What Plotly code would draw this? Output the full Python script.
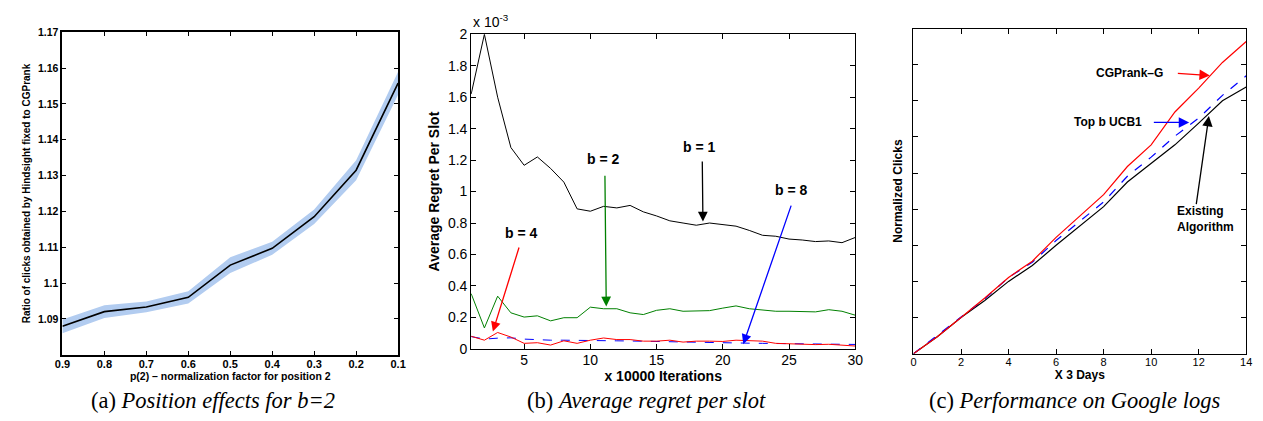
import plotly.graph_objects as go

# ---------------- data ----------------
# (a) Position effects for b=2
p2_values = [0.9, 0.8, 0.7, 0.6, 0.5, 0.4, 0.3, 0.2, 0.1]
ratio_mean = [1.0879, 1.0920, 1.0933, 1.0960, 1.1050, 1.1097, 1.1185, 1.1315, 1.1558]
ratio_hi = [1.0898, 1.0938, 1.0948, 1.0977, 1.1072, 1.1115, 1.1205, 1.1343, 1.1590]
ratio_lo = [1.0860, 1.0902, 1.0918, 1.0943, 1.1028, 1.1079, 1.1165, 1.1287, 1.1526]
a_yticks = [1.09, 1.10, 1.11, 1.12, 1.13, 1.14, 1.15, 1.16, 1.17]
a_yticktext = ["1.09", "1.1", "1.11", "1.12", "1.13", "1.14", "1.15", "1.16", "1.17"]

# (b) Average regret per slot (units of 1e-3)
iterations = list(range(1, 31))
regret_b1 = [1.62, 2.00, 1.60, 1.28, 1.167, 1.22, 1.147, 1.06, 0.89, 0.875,
             0.906, 0.896, 0.912, 0.871, 0.845, 0.814, 0.800, 0.786, 0.800, 0.790,
             0.780, 0.753, 0.722, 0.716, 0.698, 0.692, 0.682, 0.686, 0.675, 0.708]
regret_b2 = [0.351, 0.133, 0.335, 0.229, 0.202, 0.210, 0.178, 0.198, 0.198, 0.265,
             0.255, 0.255, 0.229, 0.218, 0.245, 0.255, 0.239, 0.243, 0.243, 0.259,
             0.273, 0.255, 0.249, 0.239, 0.239, 0.235, 0.235, 0.249, 0.239, 0.214]
regret_b4 = [0.080, 0.055, 0.104, 0.075, 0.035, 0.039, 0.024, 0.051, 0.035, 0.055,
             0.069, 0.059, 0.059, 0.049, 0.049, 0.055, 0.043, 0.049, 0.049, 0.047,
             0.055, 0.051, 0.049, 0.035, 0.031, 0.031, 0.027, 0.029, 0.024, 0.018]
regret_b8 = [0.078, 0.062, 0.068, 0.070, 0.062, 0.058, 0.055, 0.055, 0.053, 0.052,
             0.052, 0.051, 0.050, 0.048, 0.046, 0.045, 0.043, 0.042, 0.040, 0.038,
             0.037, 0.036, 0.035, 0.034, 0.033, 0.032, 0.031, 0.030, 0.029, 0.028]
b_yticks = [0, 0.2, 0.4, 0.6, 0.8, 1.0, 1.2, 1.4, 1.6, 1.8, 2.0]
b_yticktext = ["0", "0.2", "0.4", "0.6", "0.8", "1", "1.2", "1.4", "1.6", "1.8", "2"]
b_xticks = [5, 10, 15, 20, 25, 30]

# (c) Performance on Google logs
days = list(range(0, 15))
clicks_cgprank = [0, 0.47, 1.00, 1.54, 2.11, 2.56, 3.22, 3.80, 4.40, 5.18, 5.78, 6.69, 7.35, 8.06, 8.64]
clicks_ucb1 = [0, 0.51, 1.00, 1.52, 2.11, 2.53, 3.13, 3.67, 4.20, 4.91, 5.44, 6.02, 6.52, 7.15, 7.69]
clicks_existing = [0, 0.47, 1.00, 1.47, 2.00, 2.44, 3.00, 3.53, 4.07, 4.75, 5.27, 5.78, 6.38, 7.00, 7.38]
c_xticks = [0, 2, 4, 6, 8, 10, 12, 14]
c_yticks = [0, 1, 2, 3, 4, 5, 6, 7, 8, 9]

# ---------------- figure ----------------
SANS = "Liberation Sans, Arial, Helvetica, sans-serif"
SERIF = "Liberation Serif, Times New Roman, serif"
W, H = 1263, 421

fig = go.Figure()

# panel (a)
fig.add_trace(go.Scatter(x=p2_values, y=ratio_hi, mode="lines", line=dict(width=0),
                         hoverinfo="skip", showlegend=False, xaxis="x", yaxis="y"))
fig.add_trace(go.Scatter(x=p2_values, y=ratio_lo, mode="lines", line=dict(width=0),
                         fill="tonexty", fillcolor="rgb(178,204,240)",
                         hoverinfo="skip", showlegend=False, xaxis="x", yaxis="y"))
fig.add_trace(go.Scatter(x=p2_values, y=ratio_mean, mode="lines",
                         line=dict(color="black", width=1.6), showlegend=False,
                         xaxis="x", yaxis="y"))

# panel (b)
fig.add_trace(go.Scatter(x=iterations, y=regret_b1, mode="lines", name="b = 1",
                         line=dict(color="black", width=1), showlegend=False,
                         xaxis="x2", yaxis="y2"))
fig.add_trace(go.Scatter(x=iterations, y=regret_b2, mode="lines", name="b = 2",
                         line=dict(color="rgb(0,128,0)", width=1), showlegend=False,
                         xaxis="x2", yaxis="y2"))
fig.add_trace(go.Scatter(x=iterations, y=regret_b8, mode="lines", name="b = 8",
                         line=dict(color="blue", width=1, dash="dash"), showlegend=False,
                         xaxis="x2", yaxis="y2"))
fig.add_trace(go.Scatter(x=iterations, y=regret_b4, mode="lines", name="b = 4",
                         line=dict(color="red", width=1), showlegend=False,
                         xaxis="x2", yaxis="y2"))

# panel (c)
fig.add_trace(go.Scatter(x=days, y=clicks_existing, mode="lines", name="Existing Algorithm",
                         line=dict(color="black", width=1.2), showlegend=False,
                         xaxis="x3", yaxis="y3"))
fig.add_trace(go.Scatter(x=days, y=clicks_ucb1, mode="lines", name="Top b UCB1",
                         line=dict(color="blue", width=1.2, dash="dash"), showlegend=False,
                         xaxis="x3", yaxis="y3"))
fig.add_trace(go.Scatter(x=days, y=clicks_cgprank, mode="lines", name="CGPrank-G",
                         line=dict(color="red", width=1.2), showlegend=False,
                         xaxis="x3", yaxis="y3"))


def ax_common(width, ticklen=4):
    return dict(showline=True, linecolor="black", linewidth=width, mirror="ticks",
                ticks="inside", ticklen=ticklen, tickwidth=1, tickcolor="black",
                showgrid=False, zeroline=False, fixedrange=True)


fig.update_layout(
    width=W, height=H, margin=dict(l=0, r=0, t=0, b=0),
    paper_bgcolor="white", plot_bgcolor="white",
    font=dict(family=SANS, color="black"),
    xaxis=dict(domain=[47 / W, 387 / W], range=[0.9, 0.1], anchor="y",
               tickvals=p2_values, ticktext=[f"<b>{v:.1f}</b>" for v in p2_values],
               tickfont=dict(size=11), ticklabelstandoff=-2,
               title=dict(text="<b>p(2) – normalization factor for position 2</b>",
                          font=dict(size=10.5), standoff=0),
               **ax_common(1.8)),
    yaxis=dict(domain=[1 - 352 / H, 1 - 17 / H], range=[1.08, 1.17], anchor="x",
               tickvals=a_yticks, ticktext=[f"<b>{t}</b>" for t in a_yticktext],
               tickfont=dict(size=10.5),
               title=dict(text="<b>Ratio of clicks obtained by Hindsight fixed to CGPrank</b>",
                          font=dict(size=10), standoff=5),
               **ax_common(1.8)),
    xaxis2=dict(domain=[461 / W, 850 / W], range=[1, 30], anchor="y2",
                tickvals=b_xticks, tickfont=dict(size=14), ticklabelstandoff=-2,
                title=dict(text="<b>x 10000 Iterations</b>", font=dict(size=14), standoff=2),
                **ax_common(1, 5)),
    yaxis2=dict(domain=[1 - 346 / H, 1 - 19 / H], range=[0, 2], anchor="x2",
                tickvals=b_yticks, ticktext=b_yticktext, tickfont=dict(size=14),
                title=dict(text="<b>Average Regret Per Slot</b>", font=dict(size=14), standoff=4),
                **ax_common(1, 5)),
    xaxis3=dict(domain=[909 / W, 1246 / W], range=[0, 14], anchor="y3",
                tickvals=c_xticks, tickfont=dict(size=11), ticklabelstandoff=-2,
                title=dict(text="<b>X 3 Days</b>", font=dict(size=12), standoff=1),
                **ax_common(1, 5)),
    yaxis3=dict(domain=[1 - 351 / H, 1 - 13 / H], range=[0, 9], anchor="x3",
                tickvals=c_yticks, showticklabels=False,
                title=dict(text="<b>Normalized Clicks</b>", font=dict(size=12), standoff=7),
                **ax_common(1, 5)),
)

ann = []
# exponent label of panel (b)
ann.append(dict(xref="paper", yref="paper", x=461 / W, y=1 - 17 / H, xanchor="left",
                yanchor="bottom", showarrow=False, text="x 10<sup>-3</sup>",
                font=dict(size=14, family=SANS)))

# panel (b) arrows: (tip_x, tip_y, tail_x, tail_y, color)
b_arrows = [
    (18.5, 0.81, 18.45, 1.20, "black"),
    (11.2, 0.27, 11.1, 1.11, "rgb(0,128,0)"),
    (2.64, 0.11, 4.65, 0.654, "red"),
    (21.55, 0.03, 25.2, 0.92, "blue"),
]
for tx, ty, sx, sy, col in b_arrows:
    ann.append(dict(x=tx, y=ty, ax=sx, ay=sy, xref="x2", yref="y2", axref="x2", ayref="y2",
                    text="", showarrow=True, arrowhead=2, arrowsize=1.5, arrowwidth=1.3,
                    arrowcolor=col))
b_labels = [(18.27, 1.284, "b = 1"), (10.98, 1.205, "b = 2"),
            (4.8, 0.734, "b = 4"), (25.2, 1.01, "b = 8")]
for x, y, t in b_labels:
    ann.append(dict(x=x, y=y, xref="x2", yref="y2", text=f"<b>{t}</b>", showarrow=False,
                    font=dict(size=14, family=SANS)))

# panel (c) arrows
c_arrows = [
    (12.47, 7.70, 11.06, 7.76, "red"),
    (11.6, 6.40, 10.05, 6.40, "blue"),
    (12.43, 6.58, 11.89, 4.10, "black"),
]
for tx, ty, sx, sy, col in c_arrows:
    ann.append(dict(x=tx, y=ty, ax=sx, ay=sy, xref="x3", yref="y3", axref="x3", ayref="y3",
                    text="", showarrow=True, arrowhead=2, arrowsize=1.6, arrowwidth=1.3,
                    arrowcolor=col))
ann.append(dict(x=10.6, y=7.76, xref="x3", yref="y3", xanchor="right", showarrow=False,
                text="<b>CGPrank–G</b>", font=dict(size=12, family=SANS)))
ann.append(dict(x=9.72, y=6.40, xref="x3", yref="y3", xanchor="right", showarrow=False,
                text="<b>Top b UCB1</b>", font=dict(size=12, family=SANS)))
ann.append(dict(x=11.02, y=3.72, xref="x3", yref="y3", xanchor="left", align="left",
                showarrow=False, text="<b>Existing<br>Algorithm</b>",
                font=dict(size=12, family=SANS)))

# captions
captions = [(200, "(a) <i>Position effects for b=2</i>"),
            (639, "(b) <i>Average regret per slot</i>"),
            (1072, "(c) <i>Performance on Google logs</i>")]
for cx, t in captions:
    ann.append(dict(xref="paper", yref="paper", x=cx / W, y=1 - 400 / H, xanchor="center",
                    yanchor="middle", showarrow=False, text=t,
                    font=dict(size=22.5, family=SERIF)))

fig.update_layout(annotations=ann)
fig.write_html("out.html")
